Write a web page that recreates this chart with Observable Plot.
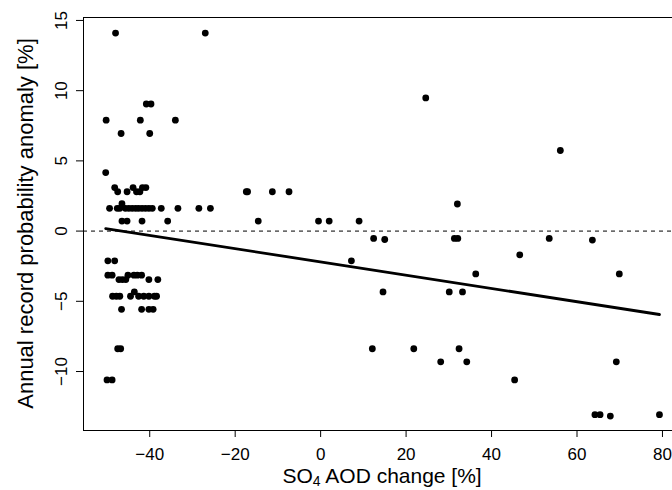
<!DOCTYPE html>
<html><head><meta charset="utf-8">
<script src="https://cdn.jsdelivr.net/npm/d3@7"></script>
<script src="https://cdn.jsdelivr.net/npm/@observablehq/plot@0.6"></script>
<style>html,body{margin:0;padding:0;background:#fff;overflow:hidden}</style>
</head><body><div id="chart"></div>
<script>
// SO4 AOD change [%]
const aodChange = [
  -48.0, -27.0, -40.8, -39.7, -50.2, -42.2, -34.0, -46.7, -40.0, -50.3,
  -48.2, -43.9, -41.7, -40.9, -47.5, -45.3, -43.1, -42.3,
  -49.4, -47.6, -47.0, -45.7, -44.9, -44.1, -43.3, -42.6, -41.8, -41.0, -40.2, -39.4, -37.3, -33.4, -28.5, -25.8,
  -46.5,
  -46.5, -45.3, -41.8, -35.8, -14.6, -0.5, 2.0, 9.0,
  -17.4, -17.1, -11.3, -7.4,
  24.6, 56.1, 32.0,
  12.4, 15.0, 31.3, 32.1, 53.5, 63.6,
  7.2, 46.6, 36.3, 69.9,
  14.6, 30.1, 33.2,
  12.1, 21.8, 32.4,
  28.1, 34.2, 69.2,
  45.4,
  64.2, 65.4, 67.8, 79.3,
  -49.8, -48.2,
  -49.8, -48.8, -45.1, -43.7, -42.9, -41.9,
  -47.2, -46.4, -45.6, -40.2, -38.1,
  -48.7, -47.8, -47.0, -44.5, -42.6, -41.4, -40.2, -38.9, -38.4,
  -43.6,
  -46.6, -41.9, -40.2, -39.2,
  -47.5, -46.8,
  -50.0, -48.8
];
// Annual record probability anomaly [%]
const recordAnomaly = [
  14.1, 14.1, 9.05, 9.05, 7.9, 7.9, 7.9, 6.95, 6.95, 4.17,
  3.1, 3.1, 3.1, 3.1, 2.8, 2.8, 2.8, 2.8,
  1.62, 1.62, 1.62, 1.62, 1.62, 1.62, 1.62, 1.62, 1.62, 1.62, 1.62, 1.62, 1.62, 1.62, 1.62, 1.62,
  1.95,
  0.71, 0.71, 0.71, 0.71, 0.71, 0.71, 0.71, 0.71,
  2.8, 2.8, 2.8, 2.8,
  9.48, 5.74, 1.93,
  -0.52, -0.6, -0.52, -0.52, -0.52, -0.64,
  -2.12, -1.69, -3.05, -3.05,
  -4.33, -4.33, -4.33,
  -8.38, -8.38, -8.38,
  -9.31, -9.31, -9.31,
  -10.6,
  -13.07, -13.07, -13.17, -13.07,
  -2.12, -2.12,
  -3.14, -3.14, -3.14, -3.14, -3.14, -3.14,
  -3.45, -3.45, -3.45, -3.45, -3.45,
  -4.64, -4.64, -4.64, -4.64, -4.64, -4.64, -4.64, -4.64, -4.64,
  -4.33,
  -5.57, -5.57, -5.57, -5.57,
  -8.38, -8.38,
  -10.6, -10.6
];
// fitted regression line, at the data's x extent
const fitAod = [-50.3, 79.3];
const fitAnomaly = [0.18, -5.94];
const xTicks = [-40, -20, 0, 20, 40, 60, 80];
const yTicks = [-10, -5, 0, 5, 10, 15];
const xTitleParts = ["SO", "4", " AOD change [%]"];
const yTitle = "Annual record probability anomaly [%]";

const xDomain = [-55.5, 82.35];
const yDomain = [-14.2, 15.21];
const points = aodChange.map((x, i) => ({x, y: recordAnomaly[i]}));
const fit = fitAod.map((x, i) => ({x, y: fitAnomaly[i]}));
const font = "'Liberation Sans', Arial, Helvetica, sans-serif";

const plot = Plot.plot({
  width: 672, height: 490,
  marginLeft: 83, marginRight: 0, marginTop: 17, marginBottom: 60,
  style: {fontFamily: font, background: "#fff", color: "#000"},
  x: {domain: xDomain},
  y: {domain: yDomain},
  marks: [
    Plot.ruleY([0], {stroke: "#000", strokeWidth: 1, strokeDasharray: "4,4"}),
    Plot.dot(points, {x: "x", y: "y", r: 3.4, fill: "#000", stroke: "none"}),
    Plot.line(fit, {x: "x", y: "y", stroke: "#000", strokeWidth: 2.8}),
    Plot.ruleY([yDomain[1]], {stroke: "#000", strokeWidth: 1}),
    Plot.ruleY([yDomain[0]], {stroke: "#000", strokeWidth: 1}),
    Plot.ruleX([xDomain[0]], {stroke: "#000", strokeWidth: 1}),
    Plot.axisX({ticks: xTicks, tickSize: 7, tickPadding: 10.5, fontSize: 17, label: null, stroke: "#000"}),
    Plot.axisY({ticks: yTicks, tickSize: 7, tickPadding: 10, tickRotate: -90, fontSize: 17, label: null, stroke: "#000"})
  ]
});
document.getElementById("chart").appendChild(plot);

const svg = d3.select(plot);
const xs = plot.scale("x");
const xMid = xs.apply(14.5);
const t = svg.append("text")
  .attr("x", xMid).attr("y", 483)
  .attr("text-anchor", "middle")
  .attr("font-family", font).attr("font-size", 21).attr("fill", "#000");
t.append("tspan").text(xTitleParts[0]);
t.append("tspan").attr("font-size", 14).attr("dy", 3).text(xTitleParts[1]);
t.append("tspan").attr("dy", -3).text(xTitleParts[2]);

svg.append("text")
  .attr("transform", `translate(33,${(17 + 430) / 2}) rotate(-90)`)
  .attr("text-anchor", "middle")
  .attr("font-family", font).attr("font-size", 22).attr("fill", "#000")
  .text(yTitle);
</script>
</body></html>
